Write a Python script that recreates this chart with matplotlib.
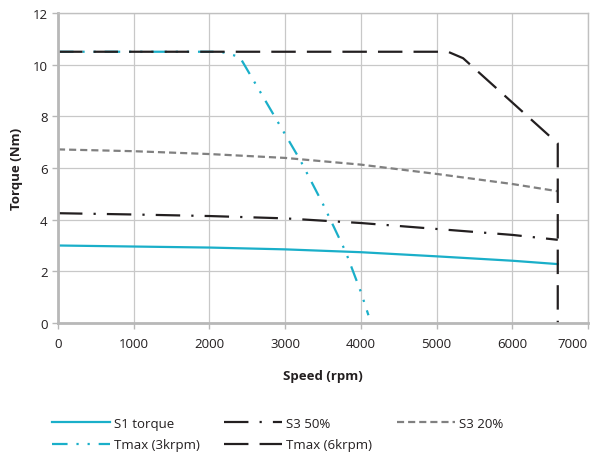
import matplotlib
matplotlib.use("Agg")
import matplotlib.pyplot as plt

plt.rcParams['font.family'] = ['Open Sans', 'DejaVu Sans']

# Data
s1_speed = [0, 1000, 2000, 3000, 4000, 5000, 6000, 6600]
s1_torque = [3.0, 2.96, 2.92, 2.85, 2.74, 2.58, 2.41, 2.28]

s3_50_speed = [0, 1000, 2000, 3000, 4000, 5000, 6000, 6600]
s3_50_torque = [4.25, 4.2, 4.14, 4.05, 3.87, 3.64, 3.41, 3.22]

s3_20_speed = [0, 1000, 2000, 3000, 4000, 5000, 6000, 6600]
s3_20_torque = [6.72, 6.65, 6.54, 6.39, 6.13, 5.77, 5.38, 5.10]

tmax3_speed = [0, 2150, 2400, 2900, 3200, 3500, 3800, 4000, 4100]
tmax3_torque = [10.5, 10.5, 10.3, 7.8, 6.3, 4.6, 2.75, 1.2, 0.3]

tmax6_speed = [0, 5150, 5350, 6600, 6600]
tmax6_torque = [10.5, 10.5, 10.25, 6.95, 0.0]

x_ticks = [0, 1000, 2000, 3000, 4000, 5000, 6000, 7000]
y_ticks = [0, 2, 4, 6, 8, 10, 12]

cyan = '#1AAFC9'
black = '#231F20'
gray = '#808080'

fig = plt.figure(figsize=(5.91, 4.56), dpi=100)
ax = fig.add_axes([0.0981, 0.2895, 0.8969, 0.6798])

lw = 1.6
l1, = ax.plot(s1_speed, s1_torque, color=cyan, lw=lw, label='S1 torque')
l2, = ax.plot(s3_50_speed, s3_50_torque, color=black, lw=lw,
              dashes=(11, 5, 1, 5), label='S3 50%')
l3, = ax.plot(s3_20_speed, s3_20_torque, color=gray, lw=lw,
              dashes=(3.2, 1.8), label='S3 20%')
l4, = ax.plot(tmax3_speed, tmax3_torque, color=cyan, lw=lw,
              dashes=(7, 4, 1, 4, 1, 4), label='Tmax (3krpm)')
l5, = ax.plot(tmax6_speed, tmax6_torque, color=black, lw=lw,
              dashes=(11, 5), label='Tmax (6krpm)')

ax.set_xlim(0, 7000)
ax.set_ylim(0, 12)
ax.set_xticks(x_ticks)
ax.set_yticks(y_ticks)
ax.grid(True, color='#c8c8c8', lw=0.9)
ax.set_axisbelow(True)
for s in ax.spines.values():
    s.set_color('#c0c0c0')
    s.set_linewidth(1.0)
ax.spines['left'].set_linewidth(2.0)
ax.spines['bottom'].set_linewidth(2.0)
ax.spines['left'].set_color('#b8b8b8')
ax.spines['bottom'].set_color('#b8b8b8')
ax.tick_params(axis='both', colors='#b8b8b8', labelcolor='#231F20',
               labelsize=9.5, length=4, width=1)
ax.tick_params(axis='x', pad=6)
xl = ax.get_xticklabels()
xl[-1].set_horizontalalignment('right')
xl[-1].set_x(7000)

ax.set_xlabel('Speed (rpm)', fontsize=9.5, fontweight='bold', color=black, labelpad=14)
ax.set_ylabel('Torque (Nm)', fontsize=9.5, fontweight='bold', color=black, labelpad=7)

handles = [l1, l4, l2, l5, l3]
leg = fig.legend(handles=handles, labels=[h.get_label() for h in handles],
                 ncol=3, loc='upper left', bbox_to_anchor=(52 / 591, 1 - 418 / 456),
                 frameon=False, fontsize=9.5, handlelength=4.4,
                 columnspacing=1.85, handletextpad=0.3, labelspacing=0.62,
                 borderpad=0, borderaxespad=0)
for t in leg.get_texts():
    t.set_color(black)

fig.savefig('out.png', dpi=100)
